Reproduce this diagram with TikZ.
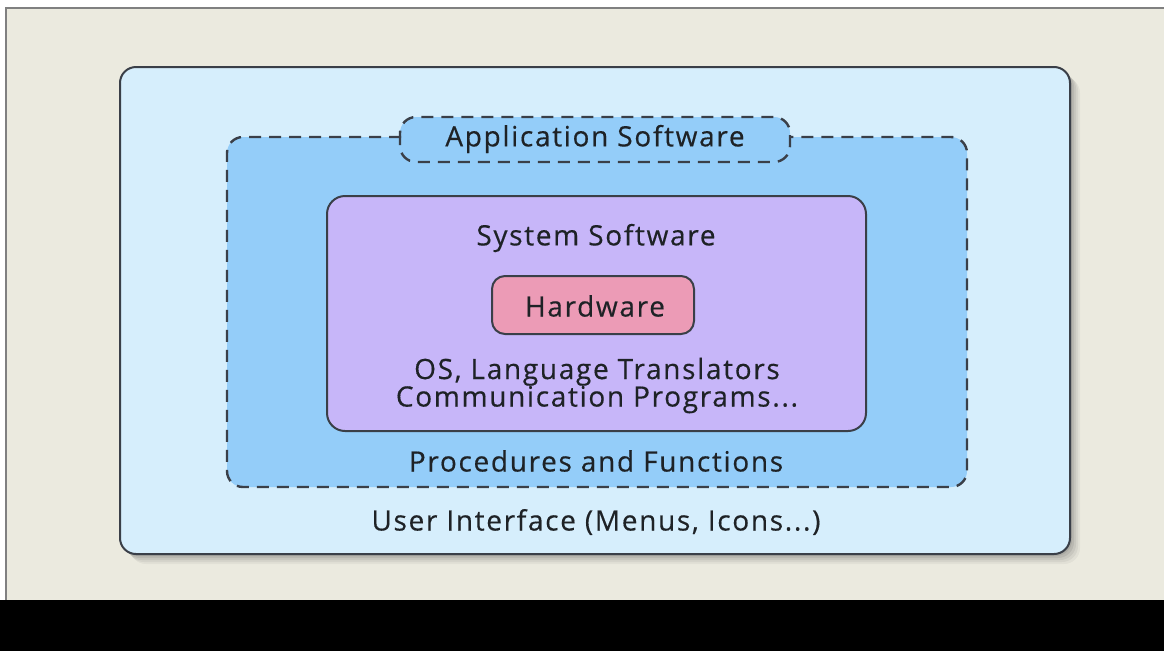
\documentclass[tikz,border=0pt]{standalone}
\usepackage{fontspec}
\setmainfont{Open Sans}[LetterSpace=6, FakeBold=0.4]
\definecolor{pagebg}{HTML}{EBEADF}
\definecolor{outerfill}{HTML}{D6EEFC}
\definecolor{appfill}{HTML}{94CDF9}
\definecolor{sysfill}{HTML}{C7B6F9}
\definecolor{hwfill}{HTML}{EC9BB6}
\definecolor{edge}{HTML}{3A3F48}
\definecolor{txt}{HTML}{1E2226}
\tikzset{
  lbl/.style={text=txt, font=\fontsize{28}{27.5}\selectfont, inner sep=0pt, align=center},
  solidbox/.style={draw=edge, line width=2pt, inner sep=0pt},
  dashline/.style={draw=edge, line width=2.4pt, dash pattern=on 12pt off 8pt},
}
\begin{document}
\begin{tikzpicture}[x=1pt,y=-1pt]
  % canvas
  \fill[white] (0,0) rectangle (1164,651);
  \useasboundingbox (0,0) rectangle (1164,651);
  \fill[pagebg] (6,8) rectangle (1164,600);
  \draw[gray, line width=1.2pt] (6,600) -- (6,8) -- (1164,8);
  \fill[black] (0,600) rectangle (1164,651);
  % shadow of outer box
  \foreach \d/\o in {10/0.04,8/0.05,6/0.06,4/0.07,2/0.08}{
    \fill[black, opacity=\o, rounded corners=16pt] (120+\d,67+\d) rectangle (1070+\d,554+\d);
  }
  % outer box
  \node[solidbox, fill=outerfill, rounded corners=16pt, minimum width=950pt, minimum height=487pt] (outer) at (595,310.5) {};
  % application box fill
  \node[fill=appfill, rounded corners=16pt, minimum width=740pt, minimum height=350pt, inner sep=0pt] (app) at (597,312) {};
  \node[fill=appfill, rounded corners=16pt, minimum width=390pt, minimum height=45pt, inner sep=0pt] (tab) at (595,139.5) {};
  % dashed outlines
  \draw[dashline, rounded corners=16pt] (401,137) -- (227,137) -- (227,487) -- (967,487) -- (967,137) -- (789,137);
  \draw[dashline, rounded corners=16pt] (400,117) rectangle (790,162);
  % system box
  \node[solidbox, fill=sysfill, rounded corners=18pt, minimum width=539pt, minimum height=235pt] (sys) at (596.5,313.5) {};
  % hardware box
  \node[solidbox, fill=hwfill, rounded corners=13pt, minimum width=202pt, minimum height=58pt] (hw) at (593,305) {};
  % texts
  \node[lbl] (tapp) at (595,139) {Application Software};
  \node[lbl] (tsys) at (596,238) {System Software};
  \node[lbl] (thw) at (595,306) {Hardware};
  \node[lbl] (tos) at (597,385.5) {OS, Language Translators\\Communication Programs...};
  \node[lbl] (tproc) at (596,461) {Procedures and Functions};
  \node[lbl] (tui) at (596,522) {User Interface (Menus, Icons...)};
\end{tikzpicture}
\end{document}
